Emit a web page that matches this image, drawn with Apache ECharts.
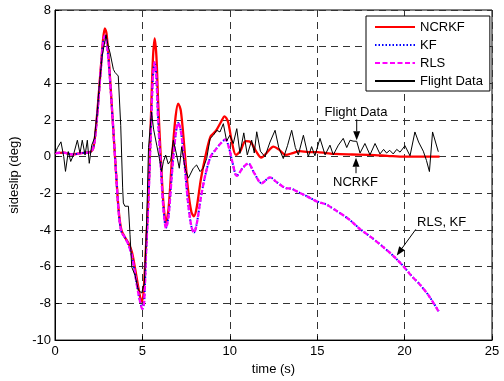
<!DOCTYPE html>
<html>
<head>
<meta charset="utf-8">
<script src="https://cdn.jsdelivr.net/npm/echarts@6/dist/echarts.min.js"></script>
<style>html,body{margin:0;padding:0;background:#fff}#c{width:504px;height:381px}</style>
</head>
<body>
<div id="c"></div>
<script>
var xTicks = [0, 5, 10, 15, 20, 25];
var yTicks = [-10, -8, -6, -4, -2, 0, 2, 4, 6, 8];

var tNcrkf = [0,0.5,1.0,1.5,2.0,2.2,2.4,2.6,2.75,2.85,2.95,3.1,3.3,3.5,3.65,3.8,4.0,4.2,4.4,4.6,4.8,4.95,5.05,5.2,5.35,5.5,5.6,5.7,5.8,5.9,6.05,6.2,6.35,6.5,6.7,6.9,7.05,7.2,7.4,7.6,7.8,7.95,8.1,8.35,8.6,8.9,9.2,9.5,9.7,9.9,10.1,10.35,10.6,10.9,11.2,11.5,11.8,12.1,12.5,12.8,13.2,13.6,14.0,14.5,15.0,15.5,16.0,17.0,18.0,19.0,20.0,21.0,22.0];
var yNcrkf = [0.2,0.22,0.12,0.2,0.25,0.5,2.2,4.6,6.4,7.0,6.7,5.0,2.0,-1.0,-3.0,-4.0,-4.4,-4.7,-5.2,-6.2,-7.3,-7.9,-7.6,-5.0,-2.0,2.5,5.3,6.45,5.5,3.0,0.0,-2.5,-3.6,-2.8,0.0,2.2,2.9,2.5,0.5,-1.7,-3.0,-3.25,-2.8,-1.2,0.0,1.1,1.4,1.9,2.2,1.9,0.9,0.1,0.3,0.85,0.8,0.3,-0.05,0.2,0.55,0.4,0.1,0.2,0.3,0.25,0.25,0.2,0.15,0.12,0.1,0.05,0.0,0.0,0.0];

var tRls = [0,0.5,1.0,1.5,2.0,2.2,2.4,2.6,2.75,2.85,2.95,3.1,3.3,3.5,3.65,3.8,4.0,4.2,4.4,4.6,4.8,5.0,5.1,5.2,5.35,5.5,5.6,5.7,5.8,5.9,6.05,6.2,6.35,6.5,6.7,6.9,7.05,7.2,7.4,7.6,7.8,7.95,8.1,8.35,8.6,8.9,9.2,9.5,9.75,9.95,10.15,10.4,10.75,11.06,11.4,11.82,12.3,12.7,13.16,13.54,14.0,14.4,15.0,15.5,16.1,16.8,17.45,18.1,18.8,19.4,19.95,20.4,20.9,21.4,21.95];
var yRls = [0.2,0.22,0.12,0.2,0.25,0.5,2.1,4.5,6.2,6.6,6.3,4.8,2.0,-1.0,-3.1,-4.1,-4.4,-4.8,-5.4,-6.5,-7.6,-8.3,-7.9,-5.5,-2.3,1.8,4.3,5.15,4.3,2.0,-0.5,-2.8,-3.9,-3.2,-0.8,1.2,1.85,1.4,-0.3,-2.4,-3.8,-4.15,-3.7,-2.2,-1.0,0.0,0.4,0.75,0.95,0.5,-0.3,-1.05,-0.6,-0.36,-0.9,-1.45,-1.13,-1.4,-1.7,-1.75,-1.98,-2.15,-2.45,-2.6,-2.95,-3.4,-3.95,-4.4,-4.95,-5.45,-6.0,-6.5,-7.0,-7.6,-8.45];
var yKf  = [0.2,0.22,0.12,0.2,0.25,0.5,2.1,4.5,6.2,6.6,6.3,4.8,2.0,-1.0,-3.1,-4.1,-4.4,-4.8,-5.4,-6.5,-7.6,-8.28,-7.9,-5.5,-2.3,1.8,4.3,5.13,4.3,2.0,-0.5,-2.8,-3.88,-3.2,-0.8,1.2,1.84,1.4,-0.3,-2.4,-3.8,-4.13,-3.7,-2.2,-1.0,0.0,0.4,0.75,0.94,0.5,-0.3,-1.04,-0.6,-0.37,-0.9,-1.44,-1.13,-1.4,-1.69,-1.75,-1.97,-2.15,-2.44,-2.6,-2.95,-3.4,-3.94,-4.4,-4.94,-5.45,-5.99,-6.5,-7.0,-7.6,-8.43];

var tFlight = [0,0.15,0.34,0.5,0.6,0.76,0.9,1.05,1.28,1.43,1.56,1.72,1.85,1.96,2.1,2.25,2.4,2.53,2.7,2.92,3.05,3.15,3.34,3.43,3.53,3.62,3.76,3.87,3.91,4.0,4.2,4.29,4.39,4.58,4.77,4.96,5.11,5.24,5.35,5.52,5.64,5.82,5.97,6.1,6.2,6.33,6.48,6.62,6.77,6.96,7.11,7.25,7.44,7.63,7.91,8.1,8.3,8.48,8.68,8.87,9.06,9.25,9.44,9.63,9.82,10.0,10.2,10.4,10.58,10.8,11.0,11.25,11.4,11.54,11.75,12.01,12.3,12.59,12.8,13.06,13.3,13.54,13.75,13.92,14.21,14.49,14.68,14.87,15.16,15.45,15.73,15.92,16.21,16.49,16.69,16.88,17.05,17.26,17.45,17.73,18.02,18.31,18.59,18.8,18.97,19.15,19.35,19.55,19.74,20.02,20.31,20.59,20.8,21.07,21.25,21.42,21.6,21.93];
var yFlight = [0.18,0.5,0.81,0.0,-0.8,0.28,-0.26,0.08,0.9,0.18,0.9,0.09,0.9,-0.36,0.63,0.99,2.3,3.86,5.5,6.65,6.0,5.66,4.76,4.6,4.67,4.4,1.7,-1.7,-2.52,-2.7,-2.7,-4.23,-6.02,-6.47,-7.28,-7.43,-6.9,-3.69,0.5,2.43,1.5,0.63,-0.09,-0.81,-0.27,0.09,-0.4,-0.2,0.9,0.09,-0.63,0.54,-0.63,-1.17,-0.63,-0.45,-0.81,-0.63,-0.09,0.99,1.17,1.44,1.35,1.8,0.85,1.17,0.72,1.53,0.18,1.3,0.1,0.9,0.2,1.36,0.3,0.0,0.8,1.44,0.5,-0.1,0.6,1.44,0.5,0.1,1.17,0.0,0.55,0.05,1.0,0.1,0.63,0.1,0.63,1.0,0.5,0.9,0.85,0.84,0.2,0.72,0.1,0.72,0.15,0.4,0.2,0.35,0.15,0.4,0.25,0.6,0.05,1.35,0.8,0.3,-0.2,-0.81,1.35,0.27];

var annotations = [
  {text: 'Flight Data', at: [17.22, 2.39], arrowFrom: [17.26, 2.03], arrowTo: [17.26, 0.9]},
  {text: 'NCRKF', at: [17.19, -1.39], arrowFrom: [17.22, -0.9], arrowTo: [17.22, -0.06]},
  {text: 'RLS, KF', at: [22.12, -3.56], arrowFrom: [20.64, -3.96], arrowTo: [19.55, -5.39]}
];

function zip(a, b) { return a.map(function (v, i) { return [v, b[i]]; }); }

var FONT = "'Liberation Sans', Arial, Helvetica, sans-serif";
var chart = echarts.init(document.getElementById('c'), null, {renderer: 'canvas'});
var gridLine = {show: true, lineStyle: {color: '#333', type: [7, 5], width: 1}};
chart.setOption({
  animation: false,
  backgroundColor: '#fff',
  textStyle: {fontFamily: FONT},
  grid: {left: 55, right: 12, top: 10, bottom: 37, show: true, borderColor: '#000', borderWidth: 1},
  legend: {
    left: 366, top: 16, orient: 'vertical',
    itemWidth: 40, itemHeight: 12, itemGap: 4,
    padding: [4, 7, 3, 8],
    borderColor: '#000', borderWidth: 1, backgroundColor: '#fff',
    itemStyle: {opacity: 0},
    textStyle: {fontFamily: FONT, fontSize: 13, color: '#000', lineHeight: 14},
    data: ['NCRKF', 'KF', 'RLS', 'Flight Data']
  },
  xAxis: {
    type: 'value', min: xTicks[0], max: xTicks[xTicks.length - 1], interval: 5,
    name: 'time (s)', nameLocation: 'middle', nameGap: 20,
    nameTextStyle: {fontFamily: FONT, fontSize: 13, color: '#000'},
    axisLine: {onZero: false, lineStyle: {color: '#000'}},
    axisTick: {inside: true, length: 4, lineStyle: {color: '#000'}},
    axisLabel: {margin: 5, fontFamily: FONT, fontSize: 13, color: '#000'},
    splitLine: gridLine
  },
  yAxis: {
    type: 'value', min: yTicks[0], max: yTicks[yTicks.length - 1], interval: 2,
    name: 'sideslip (deg)', nameLocation: 'middle', nameGap: 28,
    nameTextStyle: {fontFamily: FONT, fontSize: 13, color: '#000'},
    axisLine: {onZero: false, lineStyle: {color: '#000'}},
    axisTick: {inside: true, length: 4, lineStyle: {color: '#000'}},
    axisLabel: {margin: 4, fontFamily: FONT, fontSize: 13, color: '#000'},
    splitLine: gridLine
  },
  series: [
    {name: 'NCRKF', type: 'line', symbol: 'none', smooth: 0.3, data: zip(tNcrkf, yNcrkf),
     lineStyle: {color: '#ff0000', width: 2.3}, itemStyle: {color: '#ff0000'}},
    {name: 'KF', type: 'line', symbol: 'none', smooth: 0.3, data: zip(tRls, yKf),
     lineStyle: {color: '#0000ff', width: 2, type: [1.5, 2]}, itemStyle: {color: '#0000ff'}},
    {name: 'RLS', type: 'line', symbol: 'none', smooth: 0.3, data: zip(tRls, yRls),
     lineStyle: {color: '#ff00ff', width: 2.3, type: [5, 2.5]}, itemStyle: {color: '#ff00ff'}},
    {name: 'Flight Data', type: 'line', symbol: 'none', data: zip(tFlight, yFlight),
     lineStyle: {color: '#000', width: 1}, itemStyle: {color: '#000'}}
  ]
});

function arrowGraphics(p0, p1) {
  var dx = p1[0] - p0[0], dy = p1[1] - p0[1];
  var len = Math.sqrt(dx * dx + dy * dy), ux = dx / len, uy = dy / len;
  var hl = 9, hw = 3.5;
  var bx = p1[0] - ux * hl, by = p1[1] - uy * hl;
  return [
    {type: 'line', shape: {x1: p0[0], y1: p0[1], x2: bx, y2: by}, style: {stroke: '#000', lineWidth: 1}},
    {type: 'polygon', shape: {points: [[p1[0], p1[1]], [bx - uy * hw, by + ux * hw], [bx + uy * hw, by - ux * hw]]}, style: {fill: '#000'}}
  ];
}
var g = [];
annotations.forEach(function (a) {
  var p = chart.convertToPixel({gridIndex: 0}, a.at);
  g.push({type: 'text', x: p[0], y: p[1], style: {text: a.text, font: '13px ' + FONT, fill: '#000', align: 'center', verticalAlign: 'middle'}});
  var f = chart.convertToPixel({gridIndex: 0}, a.arrowFrom);
  var t = chart.convertToPixel({gridIndex: 0}, a.arrowTo);
  g = g.concat(arrowGraphics(f, t));
});
chart.setOption({graphic: g});
</script>
</body>
</html>
